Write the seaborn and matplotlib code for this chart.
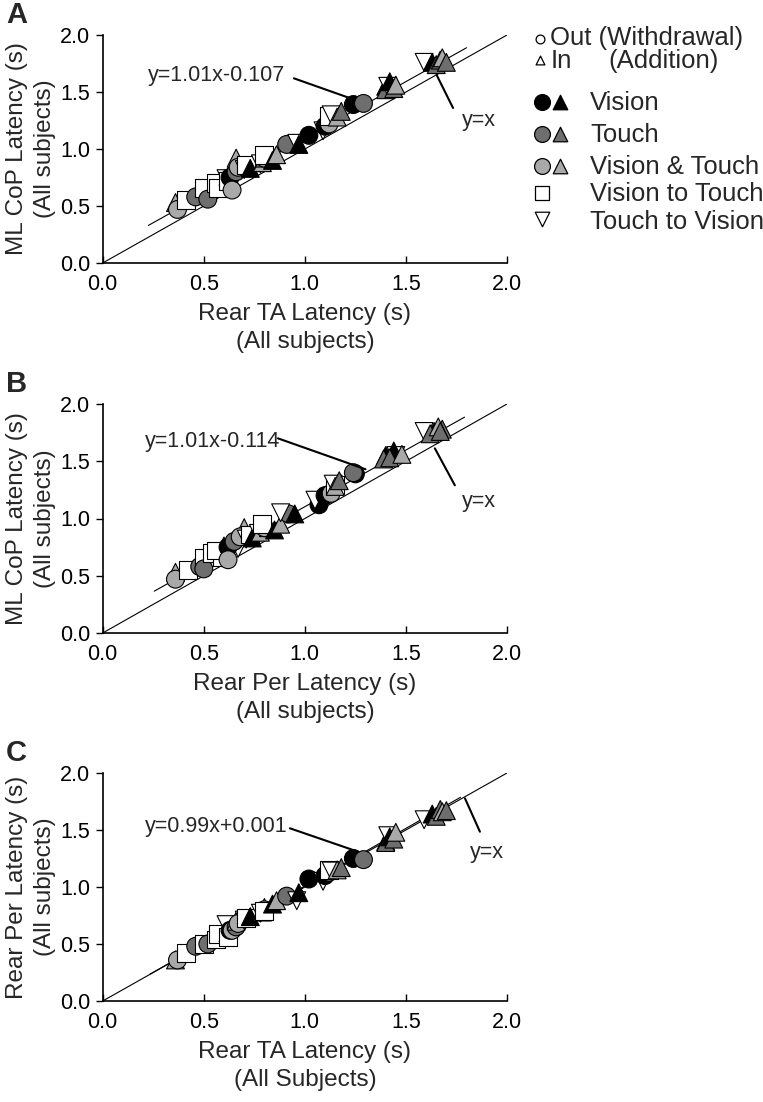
import matplotlib
matplotlib.use("Agg")
import numpy as np
import pandas as pd
import matplotlib.pyplot as plt
import seaborn as sns

# latencies (s) per group: rear TA, rear Per and ML CoP
vision_out_ta = [1.02, 1.24, 0.63, 1.10]
vision_out_per = [1.07, 1.25, 0.62, 1.10]
vision_out_cop = [1.12, 1.39, 0.75, 1.20]

vision_in_ta = [0.73, 0.84, 0.97, 1.40, 1.42, 1.63, 0.62]
vision_in_per = [0.74, 0.85, 0.95, 1.40, 1.44, 1.64, 0.60]
vision_in_cop = [0.83, 0.90, 1.04, 1.55, 1.59, 1.76, 0.76]

touch_out_ta = [1.29, 0.91, 0.46, 0.66, 0.52]
touch_out_per = [1.24, 0.92, 0.48, 0.65, 0.50]
touch_out_cop = [1.40, 1.04, 0.58, 0.80, 0.56]

touch_in_ta = [1.18, 1.40, 1.44, 1.67, 1.70, 0.80, 1.65]
touch_in_per = [1.17, 1.39, 1.42, 1.68, 1.67, 0.82, 1.62]
touch_in_cop = [1.33, 1.52, 1.53, 1.78, 1.76, 0.92, 1.74]

vt_out_ta = [0.37, 0.64, 0.67, 0.80, 1.12]
vt_out_per = [0.36, 0.62, 0.68, 0.80, 1.13]
vt_out_cop = [0.47, 0.64, 0.84, 0.92, 1.22]

vt_in_ta = [0.36, 0.66, 0.86, 1.16, 1.45, 1.68, 0.79]
vt_in_per = [0.36, 0.70, 0.88, 1.15, 1.48, 1.66, 0.78]
vt_in_cop = [0.53, 0.92, 0.95, 1.28, 1.56, 1.80, 0.88]

v2t_ta = [0.41, 0.50, 0.56, 0.57, 0.62, 0.71, 0.80, 1.12]
v2t_per = [0.42, 0.50, 0.54, 0.59, 0.56, 0.73, 0.79, 1.15]
v2t_cop = [0.55, 0.66, 0.70, 0.66, 0.72, 0.86, 0.95, 1.29]

t2v_ta = [0.61, 0.70, 0.78, 0.96, 1.09, 1.13, 1.41, 1.59]
t2v_per = [0.67, 0.71, 0.77, 0.88, 1.05, 1.14, 1.45, 1.59]
t2v_cop = [0.74, 0.82, 0.87, 1.05, 1.16, 1.30, 1.55, 1.76]

# regression lines as printed (x = slope*y + icpt), and their drawn range
fit_slope = [1.01, 1.01, 0.99]
fit_icpt = [-0.107, -0.114, 0.001]
fit_labels = ["y=1.01x-0.107", "y=1.01x-0.114", "y=0.99x+0.001"]
fit_x0 = [0.226, 0.255, 0.234]
fit_x1 = [1.80, 1.79, 1.77]

groups = ["Vision out", "Vision in", "Touch out", "Touch in", "VT out", "VT in", "V2T", "T2V"]
group_data = [
    (vision_out_ta, vision_out_per, vision_out_cop),
    (vision_in_ta, vision_in_per, vision_in_cop),
    (touch_out_ta, touch_out_per, touch_out_cop),
    (touch_in_ta, touch_in_per, touch_in_cop),
    (vt_out_ta, vt_out_per, vt_out_cop),
    (vt_in_ta, vt_in_per, vt_in_cop),
    (v2t_ta, v2t_per, v2t_cop),
    (t2v_ta, t2v_per, t2v_cop),
]

BLACK = "#000000"
DARK = "#6e6e6e"
LIGHT = "#a9a9a9"
palette = {"Vision out": BLACK, "Vision in": BLACK, "Touch out": DARK, "Touch in": DARK,
           "VT out": LIGHT, "VT in": LIGHT, "V2T": "white", "T2V": "white"}
markers = {"Vision out": "o", "Vision in": "^", "Touch out": "o", "Touch in": "^",
           "VT out": "o", "VT in": "^", "V2T": "s", "T2V": "v"}

rows = []
for g, (ta, per, cop) in zip(groups, group_data):
    for a, b, c in zip(ta, per, cop):
        rows.append({"group": g, "ta": a, "per": b, "cop": c})
df = pd.DataFrame(rows)
# interleave groups so overlaps look mixed like the original
df = df.sort_values("ta", kind="stable").reset_index(drop=True)

sns.set_theme(style="white")
plt.rcParams["font.family"] = ["Liberation Sans", "DejaVu Sans"]

fig = plt.figure(figsize=(7.63, 11.02), dpi=100)
W, H = 763, 1102

def px_axes(left, top, right, bottom):
    return fig.add_axes([left / W, 1 - bottom / H, (right - left) / W, (bottom - top) / H])

panels = [
    dict(top=35, bottom=263, x="ta", y="cop", letter="A",
         xlab="Rear TA Latency (s)\n(All subjects)", ylab="ML CoP Latency (s)\n(All subjects)",
         eq_xy=(0.224, 1.649), lead=((0.946, 1.62), (1.225, 1.445)),
         yx_xy=(1.777, 1.254), yx_lead=((1.652, 1.649), (1.733, 1.36))),
    dict(top=404, bottom=633, x="per", y="cop", letter="B",
         xlab="Rear Per Latency (s)\n(All subjects)", ylab="ML CoP Latency (s)\n(All subjects)",
         eq_xy=(0.209, 1.671), lead=((0.867, 1.70), (1.30, 1.43)),
         yx_xy=(1.777, 1.147), yx_lead=((1.643, 1.613), (1.742, 1.29))),
    dict(top=773, bottom=1001, x="ta", y="per", letter="C",
         xlab="Rear TA Latency (s)\n(All Subjects)", ylab="Rear Per Latency (s)\n(All subjects)",
         eq_xy=(0.209, 1.529), lead=((0.926, 1.515), (1.264, 1.309)),
         yx_xy=(1.818, 1.30), yx_lead=((1.792, 1.778), (1.866, 1.485))),
]

for i, p in enumerate(panels):
    ax = px_axes(102.7, p["top"], 507, p["bottom"])
    ax.set_facecolor("none")
    # identity line
    ax.plot([0, 2.0], [0, 2.0], color="black", lw=0.8, zorder=1)
    # fitted line (printed as x on y, so drawn inverted)
    xs = np.array([fit_x0[i], fit_x1[i]])
    ax.plot(xs, (xs - fit_icpt[i]) / fit_slope[i], color="black", lw=0.8, zorder=1)

    sns.scatterplot(data=df, x=p["x"], y=p["y"], hue="group", style="group",
                    palette=palette, markers=markers, s=165, edgecolor="black",
                    linewidth=0.8, legend=False, ax=ax, zorder=3)

    ax.text(p["eq_xy"][0], p["eq_xy"][1], fit_labels[i], fontsize=15.5, va="center", ha="left")
    (a0, a1), (b0, b1) = p["lead"]
    ax.plot([a0, b0], [a1, b1], color="black", lw=1.5, zorder=4)
    ax.text(p["yx_xy"][0], p["yx_xy"][1], "y=x", fontsize=15.5, va="center", ha="left")
    (a0, a1), (b0, b1) = p["yx_lead"]
    ax.plot([a0, b0], [a1, b1], color="black", lw=1.5, zorder=4)

    ax.set_xlim(0, 2.0)
    ax.set_ylim(0, 2.0)
    ticks = [0, 0.5, 1.0, 1.5, 2.0]
    ax.set_xticks(ticks)
    ax.set_yticks(ticks)
    ax.set_xticklabels([f"{t:.1f}" for t in ticks])
    ax.set_yticklabels([f"{t:.1f}" for t in ticks])
    sns.despine(ax=ax)
    for s in ["left", "bottom"]:
        ax.spines[s].set_color("black")
        ax.spines[s].set_linewidth(1.2)
    ax.tick_params(axis="x", direction="in", length=5, width=1, colors="black",
                   labelsize=15.5, pad=8, bottom=True)
    ax.tick_params(axis="y", direction="out", length=5, width=1, colors="black",
                   labelsize=15.5, pad=4, left=True)
    ax.set_xlabel(p["xlab"], fontsize=17.5, linespacing=1.35, labelpad=6)
    ax.set_ylabel(p["ylab"], fontsize=17.5, linespacing=1.35, labelpad=3)
    ax.grid(False)

    fig.text(6 / W, 1 - (p["top"] - 20) / H, p["letter"], fontsize=21, fontweight="bold",
             va="center", ha="left")

# legend drawn in pixel coordinates on a transparent overlay
ov = fig.add_axes([0, 0, 1, 1])
ov.set_xlim(0, W)
ov.set_ylim(H, 0)
ov.axis("off")
ov.set_facecolor("none")

leg_fs = 18.5
ov.scatter([540], [39], marker="o", s=40, facecolor="white", edgecolor="black", linewidth=0.9)
ov.text(550, 38, "Out (Withdrawal)", fontsize=leg_fs, va="center", ha="left")
ov.scatter([540], [60], marker="^", s=40, facecolor="white", edgecolor="black", linewidth=0.9)
ov.text(551, 61, "In", fontsize=leg_fs, va="center", ha="left")
ov.text(608, 61, "(Addition)", fontsize=leg_fs, va="center", ha="left")

leg_rows = [("Vision", BLACK, 102), ("Touch", DARK, 134), ("Vision & Touch", LIGHT, 166)]
for name, col, yy in leg_rows:
    ov.scatter([541.7], [yy], marker="o", s=130, facecolor=col, edgecolor="black", linewidth=0.9)
    ov.scatter([560], [yy], marker="^", s=110, facecolor=col, edgecolor="black", linewidth=0.9)
    ov.text(590, yy + 1, name, fontsize=leg_fs, va="center", ha="left")
ov.scatter([541.7], [193], marker="s", s=95, facecolor="white", edgecolor="black", linewidth=0.9)
ov.text(590, 194, "Vision to Touch", fontsize=leg_fs, va="center", ha="left")
ov.scatter([541.7], [219], marker="v", s=110, facecolor="white", edgecolor="black", linewidth=0.9)
ov.text(590, 222, "Touch to Vision", fontsize=leg_fs, va="center", ha="left")

fig.savefig("out.png", dpi=100)
